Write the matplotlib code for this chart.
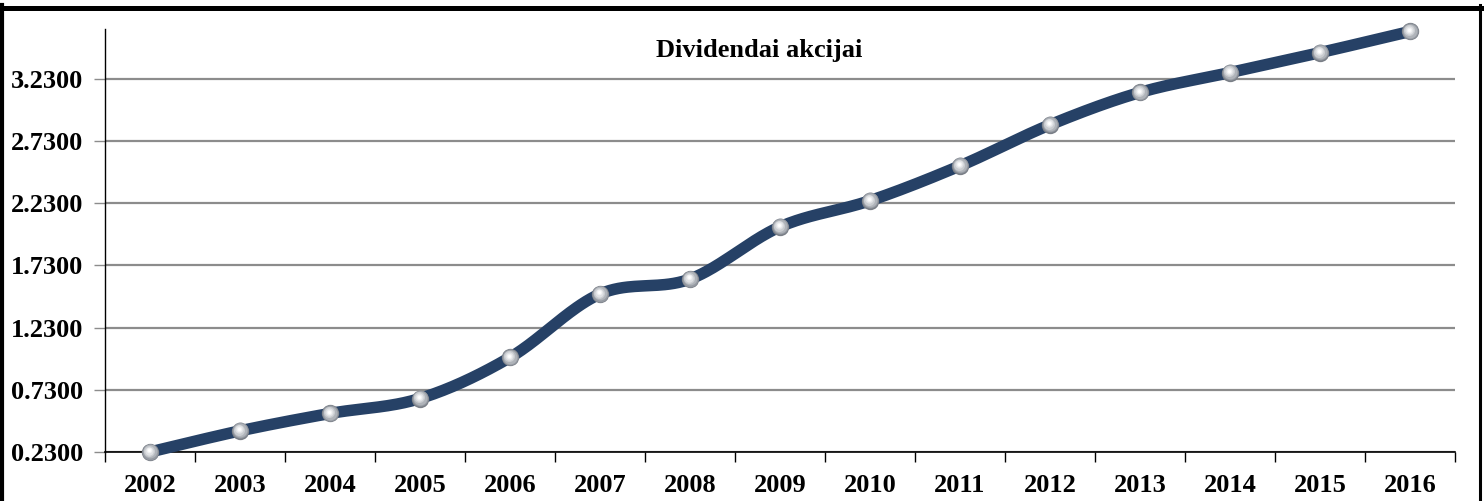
import numpy as np
import matplotlib
matplotlib.use("Agg")
import matplotlib.pyplot as plt
from matplotlib.lines import Line2D
from matplotlib.transforms import ScaledTranslation

years = ["2002", "2003", "2004", "2005", "2006", "2007", "2008", "2009",
         "2010", "2011", "2012", "2013", "2014", "2015", "2016"]
values = [0.23, 0.40, 0.54, 0.66, 0.99, 1.50, 1.62, 2.04,
          2.25, 2.53, 2.86, 3.12, 3.28, 3.44, 3.61]
yticks = [0.23, 0.73, 1.23, 1.73, 2.23, 2.73, 3.23]
title = "Dividendai akcijai"

plt.rcParams['font.family'] = ['Liberation Serif', 'DejaVu Serif']

W, H = 1484, 501
fig = plt.figure(figsize=(W / 100, H / 100), dpi=100)
ax = fig.add_axes([105 / W, 1 - 452 / H, (1455 - 105) / W, (452 - 29) / H])

x = np.arange(len(values))
y = np.array(values, dtype=float)

# Excel-style smoothed line (Bezier through the data points)
def smooth(xs, ys, n=40):
    px = np.concatenate([[xs[0]], xs, [xs[-1]]])
    py = np.concatenate([[ys[0]], ys, [ys[-1]]])
    out_x, out_y = [], []
    for i in range(1, len(px) - 2):
        p0 = np.array([px[i - 1], py[i - 1]])
        p1 = np.array([px[i], py[i]])
        p2 = np.array([px[i + 1], py[i + 1]])
        p3 = np.array([px[i + 2], py[i + 2]])
        c1 = p1 + (p2 - p0) / 6.0
        c2 = p2 - (p3 - p1) / 6.0
        t = np.linspace(0, 1, n)[:, None]
        b = ((1 - t) ** 3) * p1 + 3 * ((1 - t) ** 2) * t * c1 + 3 * (1 - t) * t ** 2 * c2 + t ** 3 * p2
        out_x.extend(b[:, 0]); out_y.extend(b[:, 1])
    return np.array(out_x), np.array(out_y)

sx, sy = smooth(x, y)

ax.set_xlim(-0.5, len(values) - 0.5)
ax.set_ylim(0.23, 3.63)
ax.set_yticks(yticks)
ax.set_yticklabels([f"{v:.4f}" for v in yticks])
ax.yaxis.grid(True, color='#8c8c8c', linewidth=1.6)
ax.set_axisbelow(True)

ax.plot(sx, sy, color='#264166', linewidth=8.3, solid_capstyle='butt', zorder=3, clip_on=False)

# silver sphere markers (highlight shifted up-left)
shades = [(12.5, '#7a7f87', 0.0), (11.5, '#959aa2', 0.3), (10, '#afb3b9', 0.6),
          (8, '#c9ccd0', 0.9), (6, '#dfe1e4', 1.2), (4, '#f1f2f3', 1.4), (2.2, '#ffffff', 1.5)]
for s, c, off in shades:
    tr = ax.transData + ScaledTranslation(-off / 100 * 0.8, off / 100 * 1.2, fig.dpi_scale_trans)
    ax.plot(x, y, linestyle='none', marker='o', markersize=s, color=c,
            markeredgewidth=0, zorder=4, clip_on=False, transform=tr)

ax.set_xticks(x)
ax.set_xticklabels(years)
ax.set_xticks(np.arange(-0.5, len(values)), minor=True)
ax.tick_params(axis='x', which='major', length=0, pad=16)
ax.tick_params(axis='x', which='minor', length=7, width=1, direction='out')
ax.tick_params(axis='y', which='major', length=8, width=1, direction='out', pad=8,
               color='#8c8c8c')
for lab in ax.get_xticklabels() + ax.get_yticklabels():
    lab.set_fontsize(19)
    lab.set_fontweight('bold')

ax.spines['top'].set_visible(False)
ax.spines['right'].set_visible(False)
ax.spines['left'].set_linewidth(1)
ax.spines['bottom'].set_linewidth(1.2)

fig.text(759 / W, 1 - 57 / H, title, ha='center', va='baseline',
         fontsize=19, fontweight='bold')

# outer frame (top, left, right)
fig.add_artist(Line2D([0, 1], [1 - 7.5 / H, 1 - 7.5 / H], transform=fig.transFigure,
                      color='black', linewidth=3.6))
fig.add_artist(Line2D([2 / W, 2 / W], [0, 1 - 5 / H], transform=fig.transFigure,
                      color='black', linewidth=3.0))
fig.add_artist(Line2D([1480 / W, 1480 / W], [0, 1 - 5 / H], transform=fig.transFigure,
                      color='black', linewidth=2.2))

fig.savefig("out.png", dpi=100)
